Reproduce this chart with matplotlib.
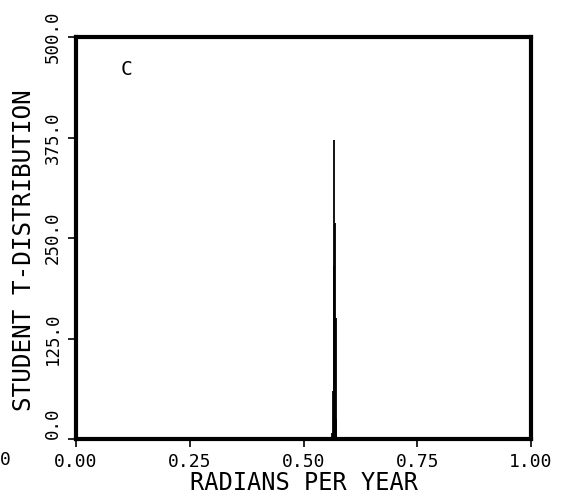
import matplotlib
matplotlib.use("Agg")
import matplotlib.pyplot as plt

# spike of the t-statistic near 0.567 rad/yr
freqs = [0.5630, 0.5645, 0.5660, 0.5675, 0.5690, 0.5705, 0.5720]
tvals = [8.0, 60.0, 215.0, 372.0, 269.0, 150.0, 25.0]

xticks = [0.00, 0.25, 0.50, 0.75, 1.00]
xlabels = ["0.00", "0.25", "0.50", "0.75", "1.00"]
yticks = [0.0, 125.0, 250.0, 375.0, 500.0]
ylabels = ["0.0", "125.0", "250.0", "375.0", "500.0"]

FONT = "DejaVu Sans Mono"

fig = plt.figure(figsize=(5.61, 5.01), dpi=100, facecolor="white")
ax = fig.add_axes([76 / 561, 1 - 439 / 501, 455 / 561, 402 / 501])

ax.vlines(freqs, 0, tvals, color="black", lw=1.3)

ax.set_xlim(0, 1)
ax.set_ylim(0, 500)
ax.set_xticks(xticks)
ax.set_xticklabels(xlabels, fontsize=13, family=FONT)
ax.set_yticks(yticks)
ax.set_yticklabels(ylabels, fontsize=12.5, family=FONT, rotation=90, va="center")
ax.get_yticklabels()[0].set_va("bottom")
ax.tick_params(direction="out", length=6, width=1.2, pad=4)

for side in ("left", "right", "bottom", "top"):
    ax.spines[side].set_linewidth(3)

ax.set_xlabel("RADIANS PER YEAR", fontsize=17, family=FONT, labelpad=0)
ax.set_ylabel("STUDENT T-DISTRIBUTION", fontsize=17.5, family=FONT)
ax.yaxis.set_label_coords(-0.088, 0.47)

ax.text(0.112, 0.918, "C", transform=ax.transAxes, fontsize=14, family=FONT,
        ha="center", va="center")

# partial label from the neighbouring panel at the left edge
fig.text(0.0, 1 - 460 / 501, "0", fontsize=13, family=FONT, ha="left", va="center")

fig.savefig("out.png", dpi=100, facecolor="white")
